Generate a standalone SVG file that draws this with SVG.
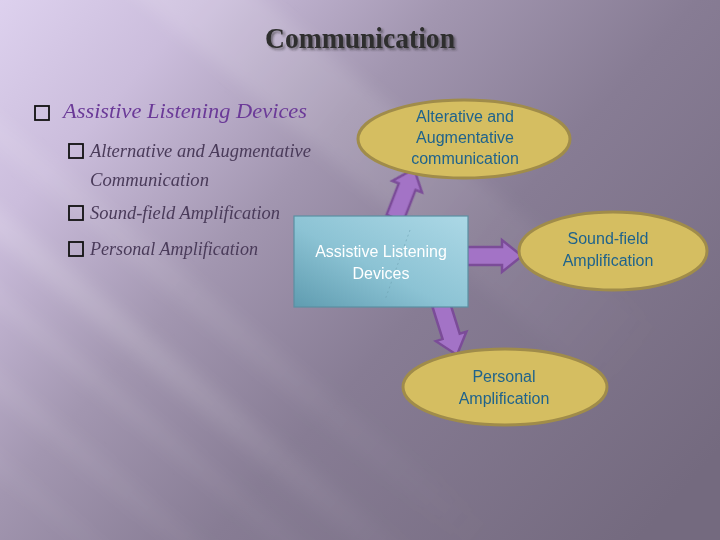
<svg xmlns="http://www.w3.org/2000/svg" xmlns:xlink="http://www.w3.org/1999/xlink" width="720" height="540" viewBox="0 0 720 540">
  <defs>
    <linearGradient id="bg" gradientUnits="userSpaceOnUse" x1="0" y1="0" x2="620" y2="560">
      <stop offset="0" stop-color="#ddd1ee"/>
      <stop offset="0.18" stop-color="#cbbddc"/>
      <stop offset="0.4" stop-color="#a296b0"/>
      <stop offset="0.62" stop-color="#877c94"/>
      <stop offset="1" stop-color="#746a7f"/>
    </linearGradient>
    <linearGradient id="streak" gradientUnits="userSpaceOnUse" x1="0" y1="0" x2="720" y2="0">
      <stop offset="0" stop-color="#ffffff" stop-opacity="1"/>
      <stop offset="0.45" stop-color="#ffffff" stop-opacity="0.8"/>
      <stop offset="1" stop-color="#ffffff" stop-opacity="0"/>
    </linearGradient>
    <linearGradient id="boxfill" x1="0" y1="1" x2="1" y2="0">
      <stop offset="0" stop-color="#5f9cb0"/>
      <stop offset="0.45" stop-color="#8cc3d4"/>
      <stop offset="1" stop-color="#acd8e6"/>
    </linearGradient>
    <filter id="blur" x="-20%" y="-20%" width="140%" height="140%">
      <feGaussianBlur stdDeviation="8"/>
    </filter>
    <filter id="shadow" x="-10%" y="-30%" width="120%" height="160%">
      <feDropShadow dx="2" dy="2" stdDeviation="1.2" flood-color="#222" flood-opacity="0.5"/>
    </filter>
    <path id="arr" d="M0,-9 L35,-9 L35,-16 L55,0 L35,16 L35,9 L0,9 Z"/>
    <style>
      .bul { fill: none; stroke: #111; stroke-width: 1.8; }
      .sub { font-family: "Liberation Serif", serif; font-style: italic; font-size: 18px; fill: #4a3b5a; }
      .ell { fill: #d5be61; stroke: #a08c4a; stroke-width: 3; }
      .etx { font-family: "Liberation Sans", Arial, sans-serif; font-size: 16px; fill: #1f638c; text-anchor: middle; }
      .btx { font-family: "Liberation Sans", Arial, sans-serif; font-size: 16px; fill: #ffffff; text-anchor: middle; }
      .arrow { fill: #a373c6; stroke: #7b4c98; stroke-width: 2.5; stroke-linejoin: miter; }
    </style>
  </defs>

  <!-- background -->
  <rect x="0" y="0" width="720" height="540" fill="url(#bg)"/>
  <g transform="rotate(40)" filter="url(#blur)" fill="url(#streak)">
    <rect x="-300" y="-170" width="1100" height="80" opacity="0.14"/>
    <rect x="-300" y="90" width="1100" height="26" opacity="0.10"/>
    <rect x="-300" y="160" width="1100" height="26" opacity="0.16"/>
    <rect x="-300" y="222" width="1100" height="16" opacity="0.10"/>
    <rect x="-300" y="285" width="1100" height="20" opacity="0.08"/>
    <rect x="-300" y="350" width="1100" height="14" opacity="0.06"/>
  </g>

  <!-- title -->
  <g id="title">
    <text x="360" y="48" font-family="Liberation Serif, serif" font-weight="bold" font-size="30" fill="#2f2f2f" text-anchor="middle" textLength="190" lengthAdjust="spacingAndGlyphs" filter="url(#shadow)">Communication</text>
  </g>

  <!-- bullet list -->
  <g id="list">
    <rect class="bul" x="35" y="106" width="14" height="14"/>
    <text x="63" y="118" font-family="Liberation Serif, serif" font-style="italic" font-size="22" fill="#6b3a98" textLength="244" lengthAdjust="spacingAndGlyphs">Assistive Listening Devices</text>
    <rect class="bul" x="69" y="144" width="14" height="14"/>
    <text class="sub" x="90" y="157" textLength="221" lengthAdjust="spacingAndGlyphs">Alternative and Augmentative</text>
    <text class="sub" x="90" y="186" textLength="119" lengthAdjust="spacingAndGlyphs">Communication</text>
    <rect class="bul" x="69" y="206" width="14" height="14"/>
    <text class="sub" x="90" y="219" textLength="190" lengthAdjust="spacingAndGlyphs">Sound-field Amplification</text>
    <rect class="bul" x="69" y="242" width="14" height="14"/>
    <text class="sub" x="90" y="255" textLength="168" lengthAdjust="spacingAndGlyphs">Personal Amplification</text>
  </g>

  <!-- connectors -->
  <g id="connectors">
    <use xlink:href="#arr" href="#arr" class="arrow" transform="translate(395,218) rotate(-68.8) scale(0.96,1)"/>
    <use xlink:href="#arr" href="#arr" class="arrow" transform="translate(467,256)"/>
    <use xlink:href="#arr" href="#arr" class="arrow" transform="translate(441,304) rotate(72.6) scale(0.97,1)"/>
  </g>

  <!-- nodes -->
  <g id="node-center">
    <rect x="294" y="216" width="174" height="91" fill="url(#boxfill)" stroke="#5b8fa2" stroke-width="1.2"/>
    <line x1="410" y1="230" x2="385" y2="300" stroke="#6c9fb0" stroke-width="0.8" stroke-dasharray="2 3" opacity="0.7"/>
    <text class="btx" x="381" y="257">Assistive Listening</text>
    <text class="btx" x="381" y="279">Devices</text>
  </g>

  <g id="node-aac">
    <ellipse class="ell" cx="464" cy="139" rx="106" ry="39"/>
    <text class="etx" x="465" y="122">Alterative and</text>
    <text class="etx" x="465" y="143">Augmentative</text>
    <text class="etx" x="465" y="164">communication</text>
  </g>

  <g id="node-soundfield">
    <ellipse class="ell" cx="613" cy="251" rx="94" ry="39"/>
    <text class="etx" x="608" y="244">Sound-field</text>
    <text class="etx" x="608" y="266">Amplification</text>
  </g>

  <g id="node-personal">
    <ellipse class="ell" cx="505" cy="387" rx="102" ry="38"/>
    <text class="etx" x="504" y="382">Personal</text>
    <text class="etx" x="504" y="404">Amplification</text>
  </g>
</svg>
